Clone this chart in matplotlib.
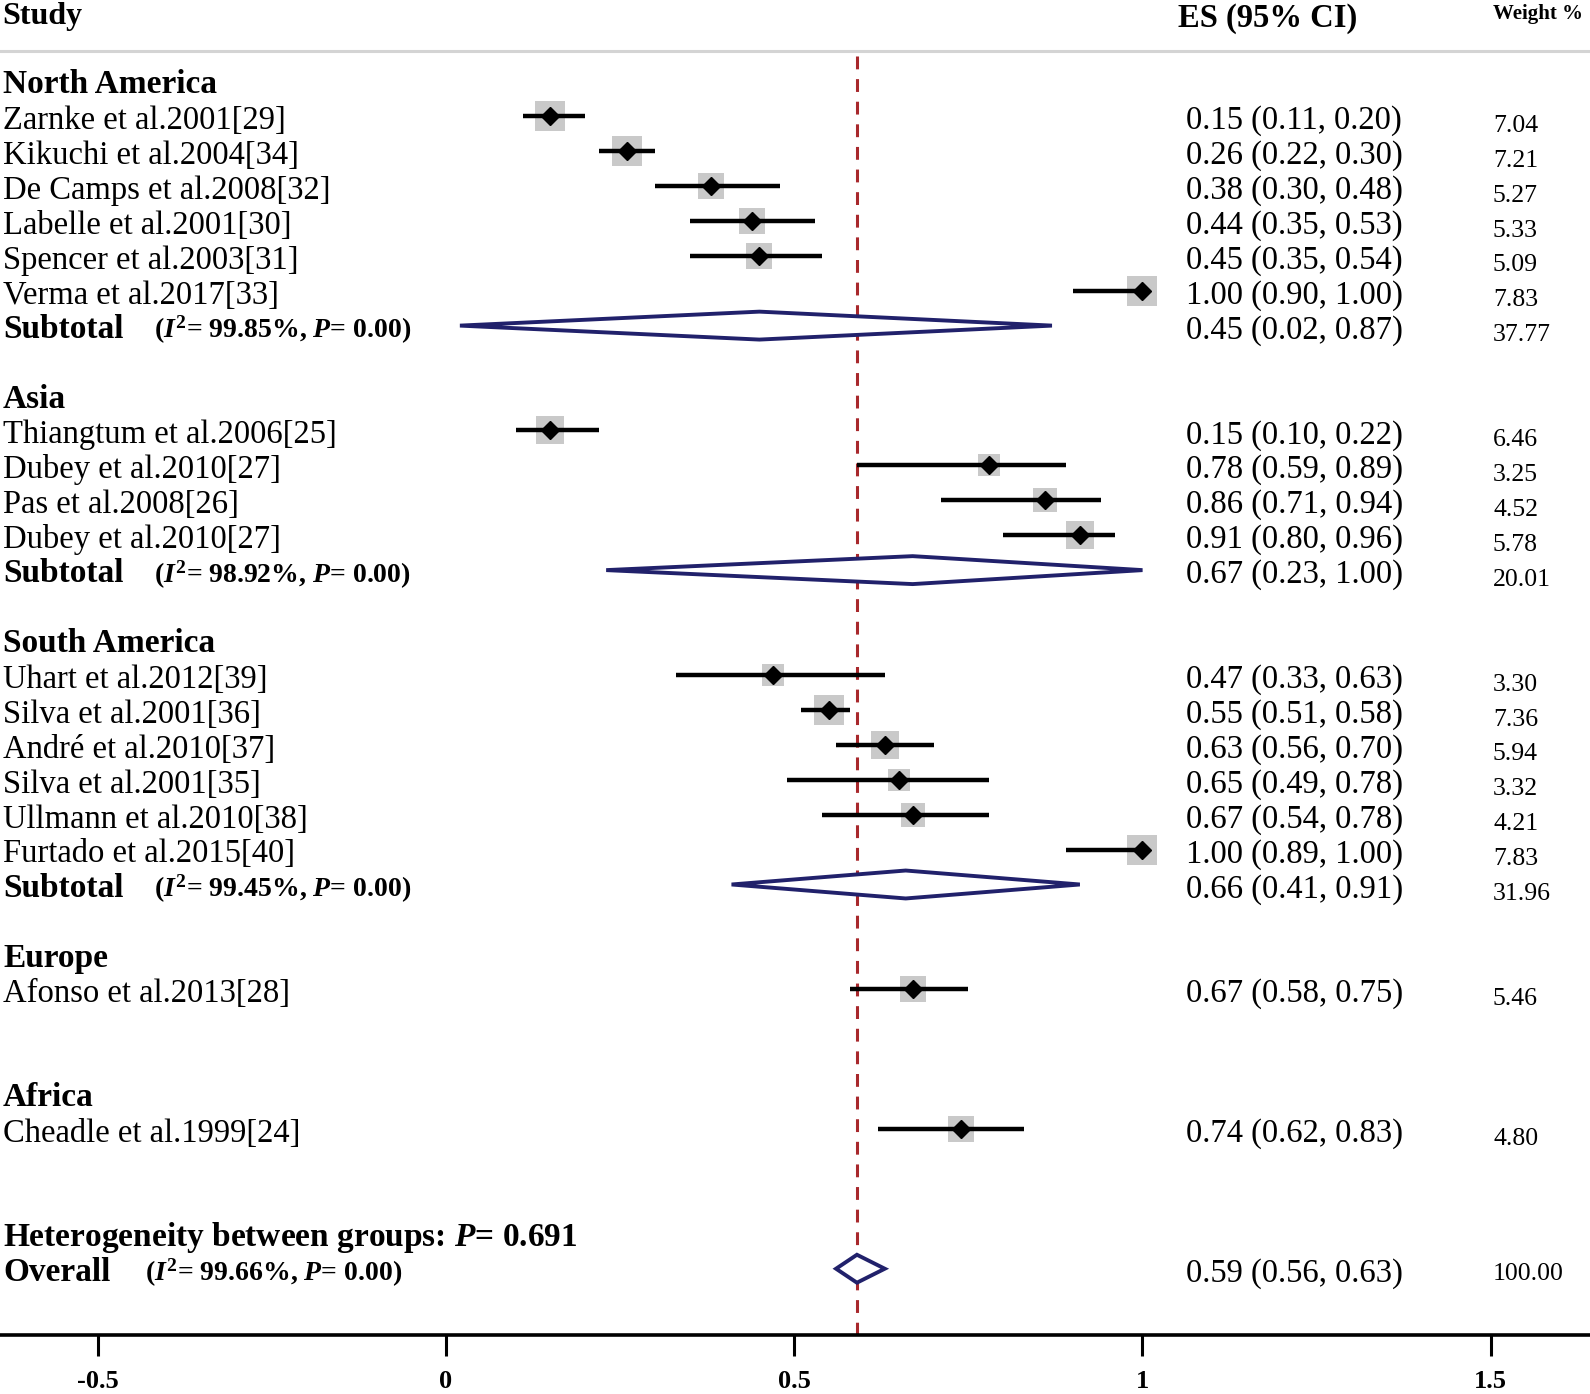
import numpy as np
import matplotlib
matplotlib.use("Agg")
import matplotlib.pyplot as plt
from matplotlib.patches import Polygon
from matplotlib import transforms

plt.rcParams['font.family'] = ['Liberation Serif', 'DejaVu Serif']
plt.rcParams['mathtext.fontset'] = 'custom'
plt.rcParams['mathtext.rm'] = 'Liberation Serif:bold'
plt.rcParams['mathtext.bf'] = 'Liberation Serif:bold'
plt.rcParams['mathtext.it'] = 'Liberation Serif:italic:bold'

# data
groups = ['North America', 'Asia', 'South America', 'Europe', 'Africa']
study_names = ['Zarnke et al.2001[29]', 'Kikuchi et al.2004[34]', 'De Camps et al.2008[32]',
               'Labelle et al.2001[30]', 'Spencer et al.2003[31]', 'Verma et al.2017[33]',
               'Thiangtum et al.2006[25]', 'Dubey et al.2010[27]', 'Pas et al.2008[26]',
               'Dubey et al.2010[27]',
               'Uhart et al.2012[39]', 'Silva et al.2001[36]', 'André et al.2010[37]',
               'Silva et al.2001[35]', 'Ullmann et al.2010[38]', 'Furtado et al.2015[40]',
               'Afonso et al.2013[28]',
               'Cheadle et al.1999[24]']
study_group = [0, 0, 0, 0, 0, 0, 1, 1, 1, 1, 2, 2, 2, 2, 2, 2, 3, 4]
study_es = [0.15, 0.26, 0.38, 0.44, 0.45, 1.00, 0.15, 0.78, 0.86, 0.91,
            0.47, 0.55, 0.63, 0.65, 0.67, 1.00, 0.67, 0.74]
study_lo = [0.11, 0.22, 0.30, 0.35, 0.35, 0.90, 0.10, 0.59, 0.71, 0.80,
            0.33, 0.51, 0.56, 0.49, 0.54, 0.89, 0.58, 0.62]
study_hi = [0.20, 0.30, 0.48, 0.53, 0.54, 1.00, 0.22, 0.89, 0.94, 0.96,
            0.63, 0.58, 0.70, 0.78, 0.78, 1.00, 0.75, 0.83]
study_wt = [7.04, 7.21, 5.27, 5.33, 5.09, 7.83, 6.46, 3.25, 4.52, 5.78,
            3.30, 7.36, 5.94, 3.32, 4.21, 7.83, 5.46, 4.80]

# subtotals (Europe and Africa have a single study, no subtotal)
sub_es = [0.45, 0.67, 0.66, None, None]
sub_lo = [0.02, 0.23, 0.41, None, None]
sub_hi = [0.87, 1.00, 0.91, None, None]
sub_wt = [37.77, 20.01, 31.96, None, None]
sub_i2 = ['99.85', '98.92', '99.45', None, None]

overall_es, overall_lo, overall_hi = 0.59, 0.56, 0.63
overall_i2 = '99.66'
het_p = '0.691'

tick_vals = [-0.5, 0, 0.5, 1, 1.5]
tick_labels = ['-0.5', '0', '0.5', '1', '1.5']

W, H = 1590, 1394
fig = plt.figure(figsize=(W / 100, H / 100), dpi=100)
ax = fig.add_axes([0, 0, 1, 1])
ax.set_xlim(-446 / 696.5, (W - 446) / 696.5)
ax.set_ylim((H - 81.1) / 34.93, -81.1 / 34.93)
tr = transforms.blended_transform_factory(ax.transAxes, ax.transData)

def px(p):
    return p / W

navy = '#21216b'
body = 23.5

def es_text(e, l, h):
    return '%.2f (%.2f, %.2f)' % (e, l, h)

row = 0
for g, gname in enumerate(groups):
    ax.text(px(3), row + 0.35, gname, transform=tr, fontsize=24, fontweight='bold', va='baseline')
    row += 1
    for i in range(len(study_names)):
        if study_group[i] != g:
            continue
        e, l, h, w = study_es[i], study_lo[i], study_hi[i], study_wt[i]
        side = (7 + 8.4 * np.sqrt(w)) / 1.389
        ax.scatter([e], [row], s=side ** 2, marker='s', color='#c9c9c9', zorder=2, linewidths=0)
        ax.plot([l, h], [row, row], color='black', lw=3.2, solid_capstyle='butt', zorder=3)
        ax.plot([e], [row], marker='D', ms=8.8, color='black', zorder=4)
        ax.text(px(3), row + 0.37, study_names[i], transform=tr, fontsize=body, va='baseline')
        ax.text(px(1186), row + 0.37, es_text(e, l, h), transform=tr, fontsize=body, va='baseline')
        ax.text(px(1493), row + 0.45, '%.2f' % w, transform=tr, fontsize=18.5, va='baseline')
        row += 1
    if sub_es[g] is not None:
        e, l, h = sub_es[g], sub_lo[g], sub_hi[g]
        d = 0.4
        ax.add_patch(Polygon([[l, row], [e, row - d], [h, row], [e, row + d]], closed=True,
                             facecolor='white', edgecolor=navy, lw=2.8, zorder=3))
        ax.text(px(3), row + 0.35, 'Subtotal', transform=tr, fontsize=24, fontweight='bold', va='baseline')
        ax.text(px(154), row + 0.35, r'($I^{2}$= %s%%, $P$= 0.00)' % sub_i2[g], transform=tr,
                fontsize=20, fontweight='bold', va='baseline')
        ax.text(px(1186), row + 0.37, es_text(e, l, h), transform=tr, fontsize=body, va='baseline')
        ax.text(px(1493), row + 0.45, '%.2f' % sub_wt[g], transform=tr, fontsize=18.5, va='baseline')
    row += 2

# heterogeneity and overall
ax.text(px(3), row + 0.35, r'Heterogeneity between groups: $P$= %s' % het_p, transform=tr,
        fontsize=24, fontweight='bold', va='baseline')
row += 1
d = 0.4
ax.add_patch(Polygon([[overall_lo, row], [overall_es, row - d], [overall_hi, row], [overall_es, row + d]],
                     closed=True, facecolor='white', edgecolor=navy, lw=2.8, zorder=3))
ax.text(px(3), row + 0.35, 'Overall', transform=tr, fontsize=24, fontweight='bold', va='baseline')
ax.text(px(145), row + 0.35, r'($I^{2}$= %s%%, $P$= 0.00)' % overall_i2, transform=tr,
        fontsize=20, fontweight='bold', va='baseline')
ax.text(px(1186), row + 0.37, es_text(overall_es, overall_lo, overall_hi), transform=tr,
        fontsize=body, va='baseline')
ax.text(px(1493), row + 0.31, '100.00', transform=tr, fontsize=18.5, va='baseline')

# headers
ax.text(px(2), -1.63, 'Study', transform=tr, fontsize=23, fontweight='bold', va='baseline')
ax.text(px(1178), -1.55, 'ES (95% CI)', transform=tr, fontsize=23.5, fontweight='bold', va='baseline')
ax.text(px(1493), -1.77, 'Weight %', transform=tr, fontsize=15, fontweight='bold', va='baseline')
ax.axhline(-0.87, color='#d4d4d4', lw=2.2)

axis_row = 35.9
ax.plot([overall_es, overall_es], [-0.72, axis_row], color='#a8282c', lw=2.2,
        linestyle=(0, (4.2, 3.2)), zorder=1)

for s in ['left', 'right', 'top']:
    ax.spines[s].set_visible(False)
ax.spines['bottom'].set_position(('data', axis_row))
ax.spines['bottom'].set_linewidth(2.6)
ax.set_yticks([])
ax.set_xticks(tick_vals)
ax.set_xticklabels(tick_labels, fontsize=19, fontweight='bold')
ax.tick_params(axis='x', direction='out', length=15, width=2.2, pad=10)

fig.savefig('out.png', dpi=100)
